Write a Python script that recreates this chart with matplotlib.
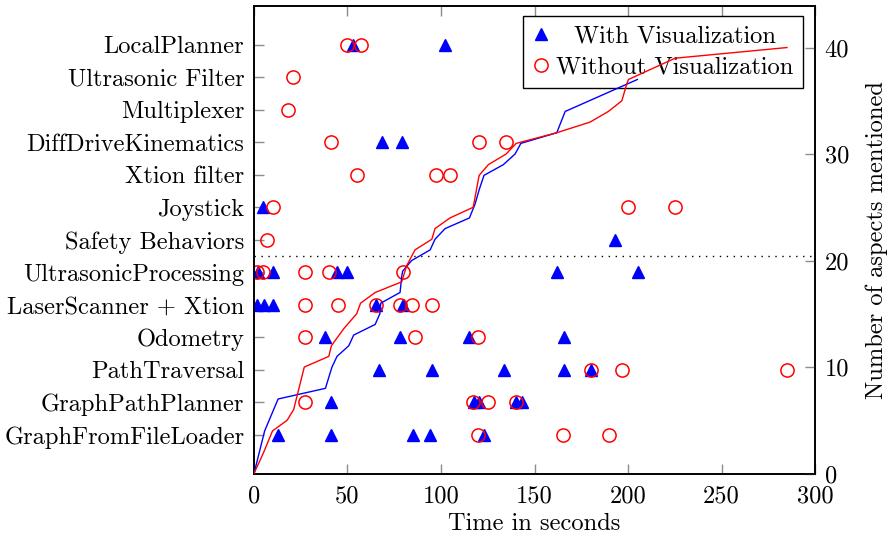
import matplotlib
matplotlib.use("Agg")
import matplotlib.pyplot as plt
from matplotlib.lines import Line2D

plt.rcParams["font.family"] = ["cmr10", "DejaVu Serif"]
plt.rcParams["axes.formatter.use_mathtext"] = True
plt.rcParams["mathtext.fontset"] = "cm"

components = [
    "GraphFromFileLoader", "GraphPathPlanner", "PathTraversal", "Odometry",
    "LaserScanner + Xtion", "UltrasonicProcessing", "Safety Behaviors",
    "Joystick", "Xtion filter", "DiffDriveKinematics", "Multiplexer",
    "Ultrasonic Filter", "LocalPlanner",
]

# Times (s) at which each component was mentioned, one list per component
with_vis_times = [
    [13.0, 41.2, 84.9, 94.1, 123.2],
    [41.2, 117.8, 120.5, 139.9, 143.2],
    [67.0, 95.0, 133.9, 165.9, 180.2],
    [38.0, 78.1, 115.0, 165.9],
    [1.8, 5.3, 10.0, 65.1, 79.8],
    [2.3, 10.0, 44.2, 49.9, 161.9, 205.2],
    [193.0],
    [5.0],
    [],
    [68.3, 79.0],
    [],
    [],
    [52.9, 102.1],
]
without_vis_times = [
    [119.9, 165.1, 190.0],
    [27.3, 117.0, 125.0, 139.9],
    [180.2, 197.0, 285.0],
    [27.3, 86.1, 119.9],
    [27.3, 45.1, 65.1, 78.1, 84.3, 95.0],
    [1.8, 5.0, 27.3, 40.1, 79.8],
    [6.8],
    [10.0, 200.2, 225.1],
    [54.9, 97.2, 104.8],
    [41.2, 120.1, 135.0],
    [18.0],
    [20.9],
    [49.7, 57.2],
]

# Cumulative number of aspects mentioned over time
with_curve_t = [0, 5.7, 12.9, 38.2, 41.7, 44.4, 50.7, 53.3, 64.8, 67.3, 67.8,
                78.1, 79.0, 79.5, 84.3, 94.2, 96.8, 102.2, 115.2, 118.2, 120.5,
                123.0, 133.3, 139.6, 142.7, 161.9, 166.4, 205.0]
with_curve_n = [0, 4, 7, 8, 10, 11, 12, 13, 14, 15, 16,
                17, 18.5, 19, 20, 21, 22, 23, 24, 25.3, 26.7,
                28, 29, 30, 31, 32, 34, 37]
without_curve_t = [0, 5.2, 9.9, 17.7, 21.2, 26.9, 40.0, 41.4, 48.0, 54.9, 57.0,
                   64.8, 79.0, 81.6, 86.1, 95.1, 96.8, 104.8, 117.2, 120.4,
                   125.3, 134.8, 140.2, 161.9, 179.7, 189.5, 196.7, 199.0,
                   200.2, 225.2, 285.0]
without_curve_n = [0, 2, 4, 5, 6, 10, 11, 12, 13.6, 15, 16,
                   17, 18, 19.5, 21, 22, 23, 24, 25, 28,
                   29, 30, 31, 32, 33, 34, 35, 36.4,
                   37, 39, 40]

x_ticks = [0, 50, 100, 150, 200, 250, 300]
count_ticks = [0, 10, 20, 30, 40]

BLUE = "#0000ff"
RED = "#ff0000"
FS = 17.6

fig = plt.figure(figsize=(8.89, 5.37), dpi=100)
ax = fig.add_axes([0.2857, 0.1182, 0.6311, 0.8706])
ax2 = ax.twinx()

for i, times in enumerate(with_vis_times):
    ax.plot(times, [i] * len(times), linestyle="none", marker="^",
            markersize=8, color=BLUE, markeredgecolor=BLUE, zorder=3)
for i, times in enumerate(without_vis_times):
    ax.plot(times, [i] * len(times), linestyle="none", marker="o",
            markersize=9.5, markerfacecolor="none", markeredgecolor=RED,
            markeredgewidth=1.1, zorder=4)

# separator between the two groups of components
ax.axhline(5.5, color="black", linestyle=(0, (1, 4)), linewidth=1.0, zorder=1)

ax.set_xlim(0, 300)
ax.set_ylim(-1.19, 13.19)
ax.set_yticks(range(len(components)))
ax.set_yticklabels(components, fontsize=FS)
ax.set_xticks(x_ticks)
ax.set_xticklabels([str(t) for t in x_ticks], fontsize=FS)
ax.set_xlabel("Time in seconds", fontsize=FS, labelpad=4)

ax2.plot(with_curve_t, with_curve_n, color=BLUE, linewidth=1.0, zorder=3)
ax2.plot(without_curve_t, without_curve_n, color=RED, linewidth=1.0, zorder=3)
ax2.set_ylim(0, 43.9)
ax2.set_yticks(count_ticks)
ax2.set_yticklabels([str(t) for t in count_ticks], fontsize=FS)
ax2.set_ylabel("Number of aspects mentioned", fontsize=FS, labelpad=12)

tick_kw = dict(direction="in", length=7, width=1.0, color="#8c8c8c",
               labelcolor="black")
ax.tick_params(axis="x", top=True, bottom=True, pad=8.5, **tick_kw)
ax.tick_params(axis="y", left=True, right=False, pad=7, **tick_kw)
ax2.tick_params(axis="y", right=True, left=False, pad=7, **tick_kw)

for a in (ax, ax2):
    for s in a.spines.values():
        s.set_linewidth(1.2)
        s.set_color("black")

handles = [
    Line2D([], [], linestyle="none", marker="^", markersize=8, color=BLUE),
    Line2D([], [], linestyle="none", marker="o", markersize=9.5,
           markerfacecolor="none", markeredgecolor=RED, markeredgewidth=1.1),
]
leg = ax2.legend(handles, ["With Visualization", "Without Visualization"],
                 loc="upper right", bbox_to_anchor=(0.979, 0.979),
                 fontsize=FS, frameon=True, fancybox=False, edgecolor="black",
                 framealpha=1.0, handlelength=0.7, handletextpad=0.25,
                 borderpad=0.4, labelspacing=0.35, borderaxespad=0)
leg.get_frame().set_linewidth(1.0)
# the curves are drawn over the legend box
leg.set_zorder(2)

# centre the entry labels within the legend column
fig.canvas.draw()
renderer = fig.canvas.get_renderer()
widths = [t.get_window_extent(renderer).width for t in leg.get_texts()]
wmax = max(widths)
for t, w in zip(leg.get_texts(), widths):
    t.set_position(((wmax - w) / 2.0, 0))

fig.savefig("out.png", dpi=100)
